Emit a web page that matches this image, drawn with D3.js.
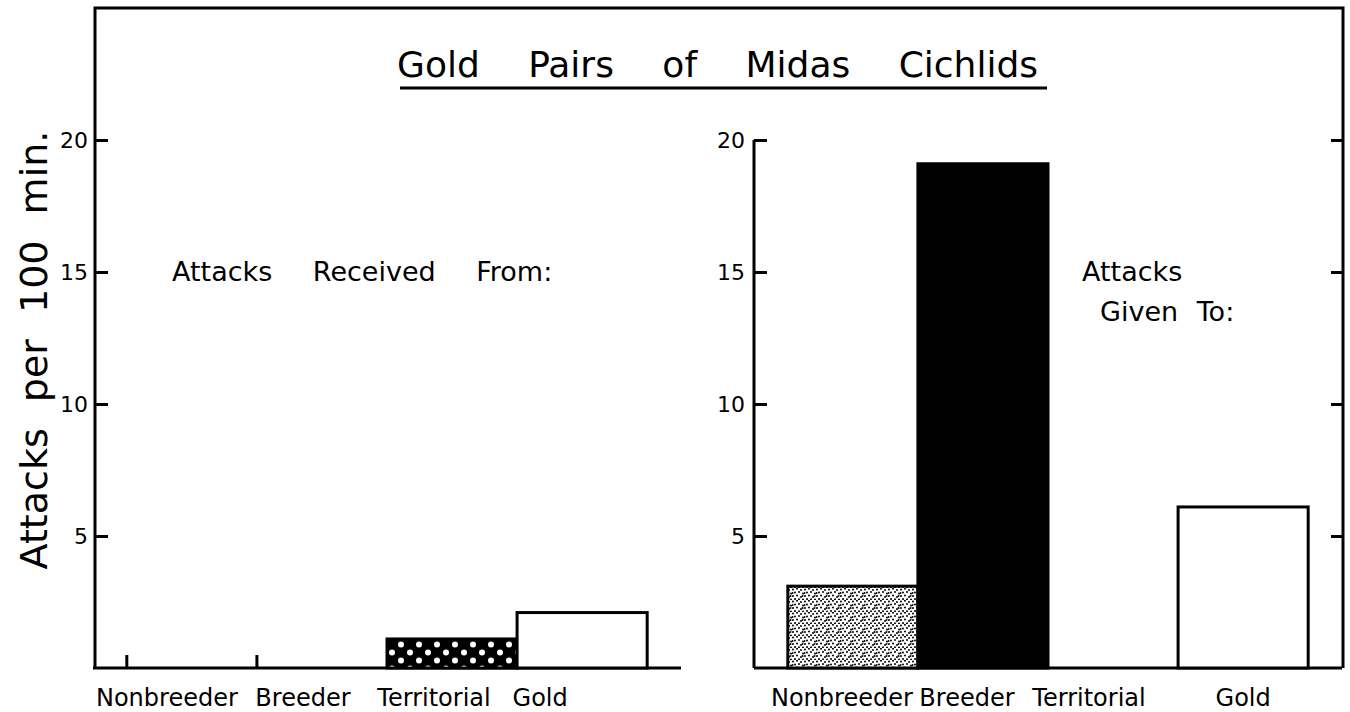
<!DOCTYPE html>
<html>
<head>
<meta charset="utf-8">
<script src="https://cdn.jsdelivr.net/npm/d3@7"></script>
<style>
  body { margin: 0; background: #fff; }
  svg { display: block; font-family: 'DejaVu Sans', sans-serif; }
</style>
</head>
<body>
<svg id="chart"></svg>
<script>
const categories = ['Nonbreeder', 'Breeder', 'Territorial', 'Gold'];
const receivedFrom = [0, 0, 1.1, 2.1];
const givenTo = [3.1, 19.1, 0, 6.1];
const yTicks = [5, 10, 15, 20];

const width = 1350;
const height = 712;
const frame = {left: 95, right: 1343, top: 8, bottom: 668};

const svg = d3.select('#chart')
.attr('width', width)
.attr('height', height);

// fill patterns
const defs = svg.append('defs');

const dots = defs.append('pattern')
.attr('id', 'white-dots')
.attr('patternUnits', 'userSpaceOnUse')
.attr('width', 18)
.attr('height', 16);
dots.append('rect').attr('width', 18).attr('height', 16).attr('fill', '#000');
dots.append('circle').attr('cx', 5).attr('cy', 4.5).attr('r', 3).attr('fill', '#fff');
dots.append('circle').attr('cx', 14).attr('cy', 12.5).attr('r', 3).attr('fill', '#fff');

const stipple = defs.append('pattern')
.attr('id', 'stipple')
.attr('patternUnits', 'userSpaceOnUse')
.attr('width', 12)
.attr('height', 12);
stipple.append('rect').attr('width', 12).attr('height', 12).attr('fill', '#fff');
[[1, 1.5], [5, 0.8], [9, 2], [3, 4.5], [7, 4], [11, 5.5], [1, 8], [5, 7.5], [9, 9], [3, 11], [7, 11.2], [11, 11.5], [0.5, 5], [10.5, 8]]
.forEach(p => {
  stipple.append('circle').attr('cx', p[0]).attr('cy', p[1]).attr('r', 1.05).attr('fill', '#111');
});

const y = d3.scaleLinear()
.domain([0, 25])
.range([frame.bottom, frame.top]);

const xLeft = d3.scaleBand()
.domain(categories)
.range([frame.left - 2, 681])
.paddingInner(0)
.paddingOuter(0.26);

const xRight = d3.scaleBand()
.domain(categories)
.range([754, frame.right - 1])
.paddingInner(0)
.paddingOuter(0.26);

// outer frame: top line and both sides
svg.append('path')
.attr('d', `M${frame.left},${frame.bottom}V${frame.top}H${frame.right}V${frame.bottom}`)
.attr('fill', 'none')
.attr('stroke', '#000')
.attr('stroke-width', 3);

// left axis (ticks point inward)
const leftAxis = svg.append('g')
.attr('transform', `translate(${frame.left},0)`)
.call(d3.axisLeft(y).tickValues(yTicks).tickSizeInner(-13).tickSizeOuter(0).tickPadding(7));
leftAxis.select('.domain').remove();

// middle axis of the right panel
const midAxis = svg.append('g')
.attr('transform', `translate(${xRight.range()[0]},0)`)
.call(d3.axisLeft(y).tickValues(yTicks).tickSizeInner(-13).tickSizeOuter(0).tickPadding(9));
midAxis.select('.domain').remove();
midAxis.append('line')
.attr('y1', y(0))
.attr('y2', y(20))
.attr('stroke', '#000')
.attr('stroke-width', 3);

// right frame ticks
const rightAxis = svg.append('g')
.attr('transform', `translate(${frame.right},0)`)
.call(d3.axisLeft(y).tickValues(yTicks).tickSize(12).tickFormat(''));
rightAxis.select('.domain').remove();

svg.selectAll('.tick line')
.attr('stroke', '#000')
.attr('stroke-width', 3);

svg.selectAll('.tick text')
.attr('fill', '#000')
.style('font-size', '22px')
.style('font-family', "'DejaVu Sans', sans-serif");

// baselines
svg.append('line')
.attr('x1', xLeft.range()[0]).attr('x2', xLeft.range()[1])
.attr('y1', y(0)).attr('y2', y(0))
.attr('stroke', '#000').attr('stroke-width', 3);

svg.append('line')
.attr('x1', xRight.range()[0]).attr('x2', xRight.range()[1])
.attr('y1', y(0)).attr('y2', y(0))
.attr('stroke', '#000').attr('stroke-width', 3);

const leftData = categories.map((c, i) => ({cat: c, value: receivedFrom[i]}));
const rightData = categories.map((c, i) => ({cat: c, value: givenTo[i]}));

const leftFill = c => c === 'Territorial' ? 'url(#white-dots)' : '#fff';
const rightFill = c => c === 'Nonbreeder' ? 'url(#stipple)' : c === 'Breeder' ? '#000' : '#fff';

svg.selectAll('.bar-left')
.data(leftData.filter(d => d.value > 0))
.enter()
.append('rect')
.attr('class', 'bar-left')
.attr('x', d => xLeft(d.cat))
.attr('y', d => y(d.value))
.attr('width', xLeft.bandwidth())
.attr('height', d => y(0) - y(d.value))
.attr('fill', d => leftFill(d.cat))
.attr('stroke', '#000')
.attr('stroke-width', 3);

// zero values shown as a short mark
svg.selectAll('.zero-left')
.data(leftData.filter(d => d.value === 0))
.enter()
.append('line')
.attr('class', 'zero-left')
.attr('x1', d => xLeft(d.cat))
.attr('x2', d => xLeft(d.cat))
.attr('y1', y(0))
.attr('y2', y(0) - 13)
.attr('stroke', '#000')
.attr('stroke-width', 3);

svg.selectAll('.bar-right')
.data(rightData.filter(d => d.value > 0))
.enter()
.append('rect')
.attr('class', 'bar-right')
.attr('x', d => xRight(d.cat))
.attr('y', d => y(d.value))
.attr('width', xRight.bandwidth())
.attr('height', d => y(0) - y(d.value))
.attr('fill', d => rightFill(d.cat))
.attr('stroke', '#000')
.attr('stroke-width', 3);

// category labels, typeset a bit off the bar centres like the original
const nudgeLeft = {Nonbreeder: -25, Breeder: -19, Territorial: -18, Gold: -42};
const nudgeRight = {Nonbreeder: -11, Breeder: -16, Territorial: -24, Gold: 0};

svg.selectAll('.label-left')
.data(categories)
.enter()
.append('text')
.attr('class', 'label-left')
.attr('x', d => xLeft(d) + xLeft.bandwidth() / 2 + nudgeLeft[d])
.attr('y', 706)
.attr('text-anchor', 'middle')
.style('font-size', '24px')
.text(d => d);

svg.selectAll('.label-right')
.data(categories)
.enter()
.append('text')
.attr('class', 'label-right')
.attr('x', d => xRight(d) + xRight.bandwidth() / 2 + nudgeRight[d])
.attr('y', 706)
.attr('text-anchor', 'middle')
.style('font-size', '24px')
.text(d => d);

// title
svg.append('text')
.attr('x', 397)
.attr('y', 77)
.style('font-size', '36px')
.style('word-spacing', '37px')
.text('Gold Pairs of Midas Cichlids');

svg.append('line')
.attr('x1', 400).attr('x2', 1047)
.attr('y1', 88).attr('y2', 88)
.attr('stroke', '#000').attr('stroke-width', 3);

svg.append('text')
.attr('x', 172)
.attr('y', 281)
.style('font-size', '27px')
.style('word-spacing', '32px')
.text('Attacks Received From:');

svg.append('text')
.attr('x', 1082)
.attr('y', 281)
.style('font-size', '27px')
.text('Attacks');

svg.append('text')
.attr('x', 1100)
.attr('y', 321)
.style('font-size', '27px')
.style('word-spacing', '10px')
.text('Given To:');

svg.append('text')
.attr('transform', 'translate(47, 350) rotate(-90)')
.attr('text-anchor', 'middle')
.style('font-size', '38px')
.style('word-spacing', '14px')
.text('Attacks per 100 min.');
</script>
</body>
</html>
